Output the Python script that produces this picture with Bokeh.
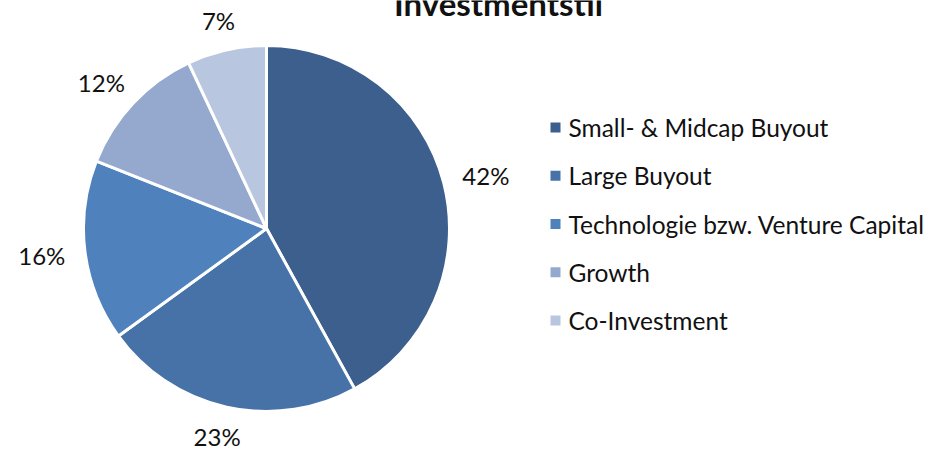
import math
from bokeh.plotting import figure
from bokeh.models import Range1d, ColumnDataSource
from bokeh.core.properties import value
from bokeh.embed import file_html
from bokeh.resources import INLINE

title = "Investmentstil"
categories = ["Small- & Midcap Buyout", "Large Buyout", "Technologie bzw. Venture Capital", "Growth", "Co-Investment"]
shares = [42, 23, 16, 12, 7]
colors = ["#3C5F8E", "#4672A8", "#4F81BD", "#95A9CF", "#B9C6E0"]

W, H = 943, 449
p = figure(width=W, height=H, output_backend="svg", toolbar_location=None,
           x_range=Range1d(0, W), y_range=Range1d(0, H), min_border=0,
           outline_line_color=None, background_fill_color="white")
p.styles = {"position": "absolute", "left": "0px", "top": "0px"}
p.axis.visible = False
p.grid.visible = False

cx, cy, r = 266, H - 228, 183
gap = 20
total = float(sum(shares))
starts, ends, lx, ly, labels = [], [], [], [], []
cum = 0.0
for s in shares:
    a0 = math.pi / 2 - 2 * math.pi * cum / total
    a1 = math.pi / 2 - 2 * math.pi * (cum + s) / total
    starts.append(a0)
    ends.append(a1)
    mid = (a0 + a1) / 2
    lab = f"{s}%"
    w = 13 * (len(lab) - 1) + 21   # approx label box width (px)
    h = 20
    ux, uy = math.cos(mid), math.sin(mid)
    lx.append(cx + (r + gap) * ux + w / 2 * ux)
    ly.append(cy + (r + gap) * uy + h / 2 * uy)
    labels.append(lab)
    cum += s

src = ColumnDataSource(dict(start=starts, end=ends, color=colors, cat=categories))
p.wedge(x=cx, y=cy, radius=r, start_angle="start", end_angle="end", direction="clock",
        fill_color="color", line_color="white", line_width=3, source=src)

p.text(x=lx, y=ly, text=labels, text_align="center", text_baseline="middle",
       text_font=value("Lato"), text_font_size="24px", text_color="#111111")

# legend
ly0, step = H - 127, 48.25
leg_y = [ly0 - step * i for i in range(len(categories))]
p.scatter(x=[555] * len(categories), y=leg_y, marker="square", size=10,
          fill_color=colors, line_color=None)
p.text(x=[568] * len(categories), y=leg_y, text=categories, text_align="left",
       text_baseline="middle", text_font=value("Lato"), text_font_size="24.5px",
       text_color="#111111")

# title (cut at the top edge as in the reference)
p.text(x=[498], y=[H - 2], text=[title], text_align="center", text_baseline="middle",
       text_font=value("Lato"), text_font_size="33px", text_font_style="bold",
       text_color="#111111")

open("out.html", "w").write(file_html(p, INLINE))
